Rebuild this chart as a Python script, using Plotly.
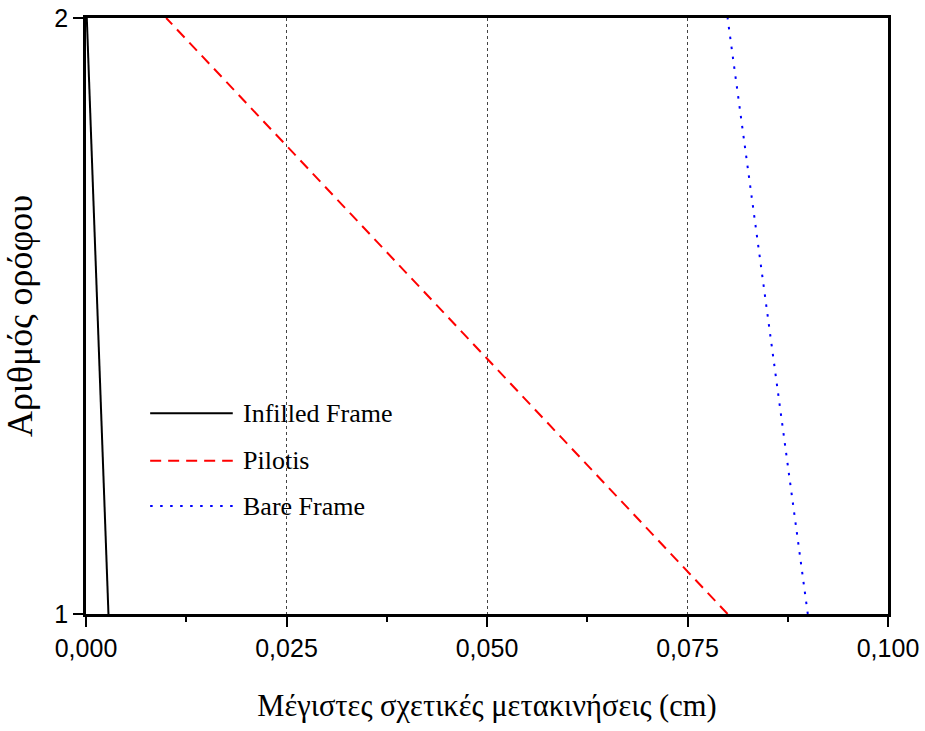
import plotly.graph_objects as go

# Floor numbers and maximum interstory drifts (cm) for each model
floors = [1, 2]
infilled_frame = [0.0028, 0.0001]
pilotis = [0.080, 0.010]
bare_frame = [0.090, 0.080]

series_names = ["Infilled Frame", "Pilotis", "Bare Frame"]
series_colors = ["black", "#ff0000", "#0000ff"]
series_dash = ["solid", "11px,7px", "2.5px,7.5px"]
series_values = [infilled_frame, pilotis, bare_frame]

x_ticks = [0.0, 0.025, 0.05, 0.075, 0.1]

serif = "Liberation Serif, Times New Roman, serif"
sans = "Liberation Sans, Arial, sans-serif"

fig = go.Figure()
for name, vals, col, dash in zip(series_names, series_values, series_colors, series_dash):
    fig.add_trace(go.Scatter(
        x=vals, y=floors, mode="lines", name=name,
        line=dict(color=col, width=2, dash=dash),
        showlegend=False, hoverinfo="x+y+name",
    ))

# Legend drawn inside the plot area with long line samples
legend_rows_y = [0.337, 0.257, 0.181]
for name, col, dash, ly in zip(series_names, series_colors, series_dash, legend_rows_y):
    fig.add_shape(type="line", xref="paper", yref="paper",
                  x0=0.080, x1=0.183, y0=ly, y1=ly,
                  line=dict(color=col, width=2, dash=dash))
    fig.add_annotation(xref="paper", yref="paper", x=0.193, y=ly,
                       text=name, showarrow=False, xanchor="left", yanchor="middle",
                       font=dict(family=serif, size=26, color="black"))

fig.update_layout(
    width=925, height=731,
    margin=dict(l=86, r=37, t=18, b=117),
    paper_bgcolor="white", plot_bgcolor="white",
    separators=",.",
    showlegend=False,
    xaxis=dict(
        range=[0, 0.1], tickvals=x_ticks, tickformat=".3f",
        automargin=False,
        showline=True, linecolor="black", linewidth=2.5, mirror=True,
        ticks="outside", ticklen=10, tickwidth=2, tickcolor="black",
        minor=dict(tickvals=[0.0125, 0.0375, 0.0625, 0.0875], ticks="outside",
                   ticklen=5, tickwidth=2, tickcolor="black", showgrid=False),
        showgrid=True, gridcolor="#444444", gridwidth=1, griddash="dot",
        zeroline=False,
        tickfont=dict(family=sans, size=25, color="black"),
        title=dict(text="Μέγιστες σχετικές μετακινήσεις (cm)",
                   font=dict(family=serif, size=30.5, color="black"), standoff=34),
    ),
    yaxis=dict(
        range=[1, 2], tickvals=[1, 2],
        automargin=False,
        showline=True, linecolor="black", linewidth=2.5, mirror=True,
        ticks="outside", ticklen=10, tickwidth=2, tickcolor="black",
        showgrid=False, zeroline=False,
        tickfont=dict(family=sans, size=25, color="black"),
        title=dict(text="Αριθμός ορόφου",
                   font=dict(family=serif, size=36, color="black"), standoff=14),
    ),
)

fig.write_html("out.html")
